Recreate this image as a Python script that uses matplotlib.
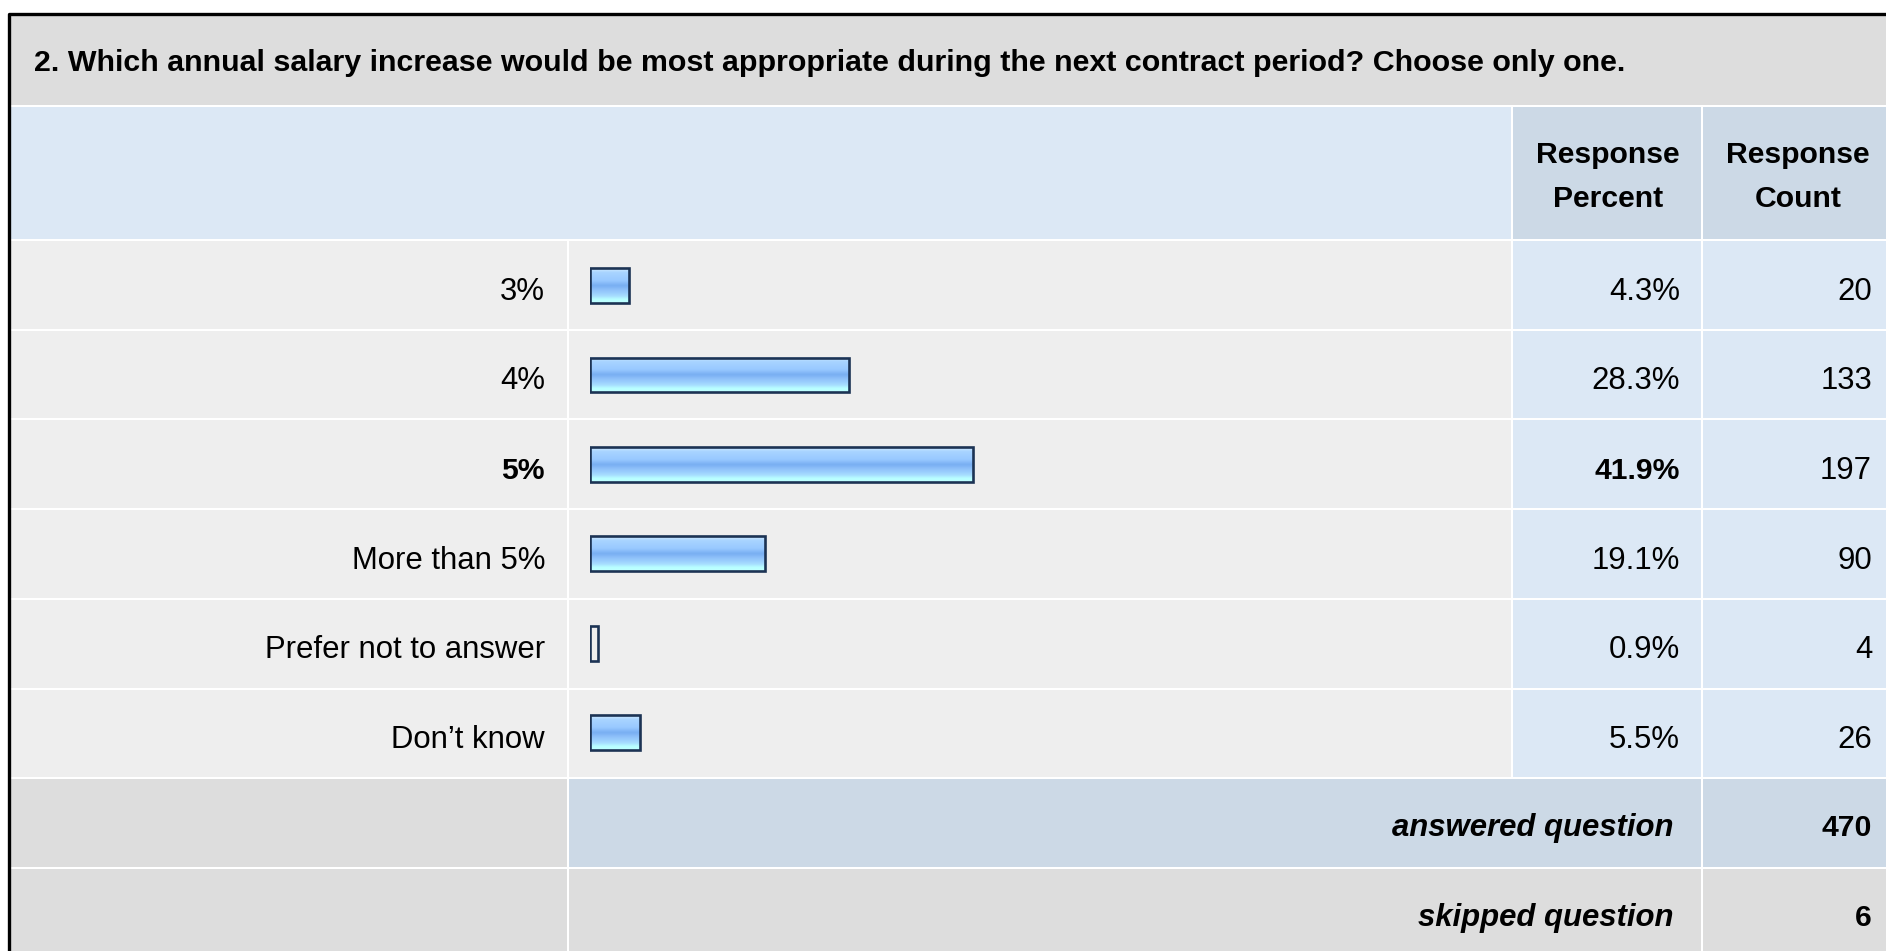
import numpy as np
import matplotlib.pyplot as plt
from matplotlib.patches import Rectangle
from matplotlib.colors import LinearSegmentedColormap

plt.rcParams['font.family'] = ['Liberation Sans', 'DejaVu Sans']

# survey data
title = "2. Which annual salary increase would be most appropriate during the next contract period? Choose only one."
options = ["3%", "4%", "5%", "More than 5%", "Prefer not to answer", "Don\u2019t know"]
percents = [4.3, 28.3, 41.9, 19.1, 0.9, 5.5]
counts = [20, 133, 197, 90, 4, 26]
answered = 470
skipped = 6
top_choice = 2  # row shown in bold

W, H = 1886, 951
fig = plt.figure(figsize=(W / 100, H / 100), dpi=100)
ax = fig.add_axes([0, 0, 1, 1])
ax.set_xlim(0, W)
ax.set_ylim(H, 0)
ax.axis('off')

# column edges / row edges in pixels
x0, x1, x2, x3, x4 = 10, 569, 1513, 1703, 1890
row_top, row_h = 241, 89.7
gap = 2
base = 58.5  # baseline offset inside a row

grey = '#dddddd'
light = '#dce8f5'
mid = '#ccd9e6'
rowbg = '#eeeeee'
fs = 22.4
fsb = 21.7


def cell(xa, xb, ya, yb, color):
    ax.add_patch(Rectangle((xa, ya), xb - xa - gap, yb - ya - gap,
                           facecolor=color, edgecolor='none'))


# outer frame
ax.plot([8.5, 8.5, W], [H, 13.5, 13.5], color='black', lw=2.4, solid_capstyle='butt')

# title band
cell(x0, x4, 15, 107, grey)
ax.text(34, 71, title, fontsize=21.9, fontweight='bold', va='baseline', ha='left')

# header
cell(x0, x2, 107, row_top, light)
cell(x2, x3, 107, row_top, mid)
cell(x3, x4, 107, row_top, mid)
for xc, lines in [(1608, ["Response", "Percent"]), (1798, ["Response", "Count"])]:
    ax.text(xc, 163, lines[0], fontsize=fsb, fontweight='bold', ha='center', va='baseline')
    ax.text(xc, 207, lines[1], fontsize=fsb, fontweight='bold', ha='center', va='baseline')

n = len(options)
for i in range(n):
    ya = row_top + i * row_h
    yb = ya + row_h
    cell(x0, x1, ya, yb, rowbg)
    cell(x1, x2, ya, yb, rowbg)
    cell(x2, x3, ya, yb, light)
    cell(x3, x4, ya, yb, light)
    if i == top_choice:
        wt, f = 'bold', fsb
    else:
        wt, f = 'normal', fs
    ax.text(545, ya + base, options[i], fontsize=f, fontweight=wt, ha='right', va='baseline')
    ax.text(1680, ya + base, f"{percents[i]:.1f}%", fontsize=f, fontweight=wt, ha='right', va='baseline')
    ax.text(1872, ya + base, str(counts[i]), fontsize=fs, ha='right', va='baseline')

# summary rows
ya = row_top + n * row_h
cell(x0, x1, ya, ya + row_h, grey)
cell(x1, x3, ya, ya + row_h, mid)
cell(x3, x4, ya, ya + row_h, mid)
ax.text(1673, ya + 57, "answered question", fontsize=fs, fontweight='bold', style='italic',
        ha='right', va='baseline')
ax.text(1872, ya + 57, str(answered), fontsize=fsb, fontweight='bold', ha='right', va='baseline')
ya += row_h
cell(x0, x1, ya, ya + row_h, grey)
cell(x1, x3, ya, ya + row_h, grey)
cell(x3, x4, ya, ya + row_h, grey)
ax.text(1673, ya + 57, "skipped question", fontsize=fs, fontweight='bold', style='italic',
        ha='right', va='baseline')
ax.text(1872, ya + 57, str(skipped), fontsize=fsb, fontweight='bold', ha='right', va='baseline')

# bar axes: 0-100% spans 590..1504 px
bl, bw = 590, 914
b_top, b_bot = row_top, row_top + n * row_h - gap
axb = fig.add_axes([bl / W, (H - b_bot) / H, bw / W, (b_bot - b_top) / H])
axb.axis('off')
axb.patch.set_alpha(0)

cmap = LinearSegmentedColormap.from_list('bar', [
    (0.0, '#d4ecff'), (0.12, '#a8d4ff'), (0.35, '#99c9ff'),
    (0.5, '#78aef2'), (0.62, '#8ec0fa'), (0.8, '#a6dcff'),
    (0.9, '#b8ffff'), (1.0, '#c0ffff')])
grad = np.linspace(0, 1, 64).reshape(-1, 1)

bars = axb.barh(range(n), percents, height=0.39, facecolor='none',
                edgecolor='#1c3354', linewidth=1.9, zorder=3)
for b, p in zip(bars, percents):
    if p < 2:
        continue  # tiny bars show only their outline
    x, y, w, h = b.get_x(), b.get_y(), b.get_width(), b.get_height()
    axb.imshow(grad, extent=[x, x + w, y + h, y], aspect='auto', cmap=cmap,
               zorder=2, interpolation='bilinear')
axb.set_xlim(0, 100)
axb.set_ylim(n - 0.5, -0.5)

fig.savefig('out.png', dpi=100)
